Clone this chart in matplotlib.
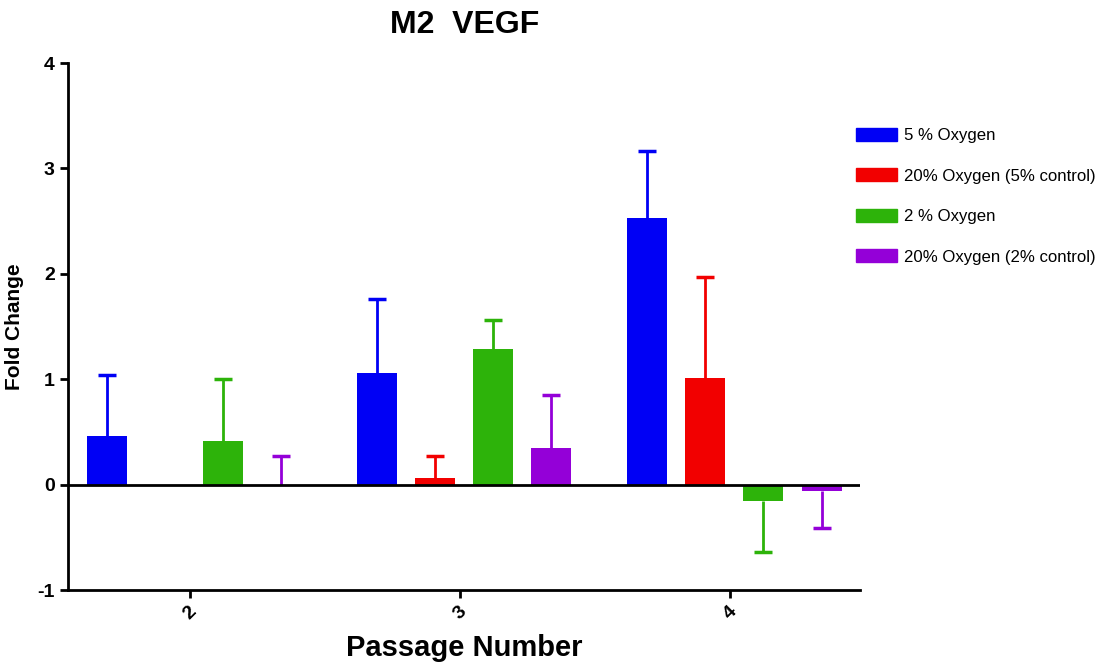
import numpy as np
import matplotlib.pyplot as plt
from matplotlib.patches import Patch

plt.rcParams['font.family'] = ['Liberation Sans', 'DejaVu Sans']
plt.rcParams['axes.unicode_minus'] = False

passages = [2, 3, 4]
series_names = ['5 % Oxygen', '20% Oxygen (5% control)', '2 % Oxygen', '20% Oxygen (2% control)']
colors = ['#0000f5', '#f20000', '#2db30a', '#9400d8']

blue_vals = [0.46, 1.06, 2.53]
blue_err = [0.58, 0.70, 0.64]
red_vals = [np.nan, 0.06, 1.01]
red_err = [np.nan, 0.21, 0.96]
green_vals = [0.41, 1.29, -0.155]
green_err = [0.59, 0.27, 0.48]
purple_vals = [0.0, 0.35, -0.057]
purple_err = [0.27, 0.50, 0.35]

vals = [blue_vals, red_vals, green_vals, purple_vals]
errs = [blue_err, red_err, green_err, purple_err]

fig = plt.figure(figsize=(11.04, 6.64), dpi=100)
ax = fig.add_axes([0.0616, 0.1114, 0.7174, 0.7936])

x = np.array(passages, dtype=float)
step = 0.215
width = 0.148
for i in range(4):
    v = np.array(vals[i])
    e = np.array(errs[i])
    pos = x + (i - 1.5) * step + 0.015
    ax.bar(pos, v, width, color=colors[i], zorder=2)
    # one-sided error bars, away from zero
    tip = np.where(v >= 0, v + e, v - e)
    ax.vlines(pos, v, tip, color=colors[i], lw=2, zorder=1)
    ax.plot(pos, tip, ls='none', marker='_', markersize=13, mew=2.5,
            color=colors[i], zorder=1)

ax.axhline(0, color='black', lw=2, zorder=3)
ax.set_xlim(1.548, 4.48)
ax.set_ylim(-1, 4)
ax.set_yticks([-1, 0, 1, 2, 3, 4])
ax.set_xticks(passages)
ax.set_xticklabels([str(p) for p in passages], rotation=45)
for lab in ax.get_xticklabels() + ax.get_yticklabels():
    lab.set_fontweight('bold')
    lab.set_fontsize(14)
ax.tick_params(width=2, length=6)
ax.spines['top'].set_visible(False)
ax.spines['right'].set_visible(False)
ax.spines['left'].set_linewidth(2)
ax.spines['bottom'].set_linewidth(2)

ax.set_ylabel('Fold Change', fontsize=15, fontweight='bold', labelpad=10)
ax.set_xlabel('Passage Number', fontsize=21, fontweight='bold', labelpad=8)
fig.text(0.421, 0.962, 'M2  VEGF', fontsize=23, fontweight='bold', ha='center', va='center')

handles = [Patch(color=c, label=n) for c, n in zip(colors, series_names)]
fig.legend(handles=handles, loc='upper left', bbox_to_anchor=(0.762, 0.83),
           frameon=False, fontsize=12.1, handlelength=2.4, handleheight=0.8,
           labelspacing=1.5, handletextpad=0.45)

fig.savefig('out.png', dpi=100)
